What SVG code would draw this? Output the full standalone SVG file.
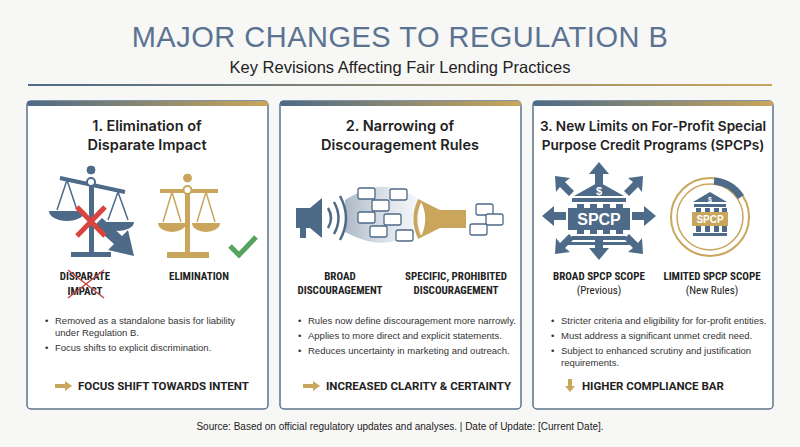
<svg xmlns="http://www.w3.org/2000/svg" width="800" height="447" viewBox="0 0 800 447">
<defs>
<linearGradient id="g" x1="0" x2="1"><stop offset="0" stop-color="#4d6a88"/><stop offset="1" stop-color="#c9a65c"/></linearGradient>
<linearGradient id="cone" x1="0" x2="1"><stop offset="0" stop-color="#5a7391" stop-opacity="0.5"/><stop offset="1" stop-color="#dfe5ec" stop-opacity="0.3"/></linearGradient>
<style>
text{font-family:"Liberation Sans",Arial,sans-serif;fill:#222}
.pt{font-family:"Inter","Liberation Sans",sans-serif;font-size:14.5px;font-weight:600;text-anchor:middle;fill:#222}
.lb{font-family:"Roboto","Liberation Sans",sans-serif;font-size:11px;font-weight:bold;text-anchor:middle;font-stretch:condensed}
.bl{font-size:9.5px;fill:#333}
.tk{font-family:"Roboto","Liberation Sans",sans-serif;font-size:11.5px;font-weight:bold;fill:#222}
.panel{fill:#fff;stroke:#5d738b;stroke-width:1.5}
</style>
</defs>
<rect width="800" height="447" fill="#f7f7f6"/>
<text x="400" y="47" text-anchor="middle" font-size="29" style="fill:#5a7391;letter-spacing:0.5px">MAJOR CHANGES TO REGULATION B</text>
<text x="400" y="73" text-anchor="middle" font-size="16.5">Key Revisions Affecting Fair Lending Practices</text>
<rect x="28" y="84" width="744" height="2" fill="url(#g)"/>

<g id="panel1">
<rect class="panel" x="27" y="101" width="241" height="308" rx="4"/>
<rect x="27" y="101" width="241" height="5" rx="2" fill="url(#g)"/>
<text class="pt" x="147" y="131">1. Elimination of</text>
<text class="pt" x="147" y="150">Disparate Impact</text>
<g fill="#4d6a88" stroke="#4d6a88">
<line x1="60" y1="178" x2="125" y2="192" stroke-width="4"/>
<rect x="89" y="180" width="5" height="74" stroke="none"/>
<circle cx="91" cy="170" r="4"/>
<circle cx="91" cy="182" r="4" fill="#fff" stroke-width="2"/>
<path d="M67 180 L57 210 M67 180 L77 210 M118 192 L108 220 M118 192 L128 220" stroke-width="1.5" fill="none"/>
<path d="M49 211 H85 A18 10 0 0 1 49 211Z" stroke="none"/>
<path d="M102 222 H134 A16 9 0 0 1 102 222Z" stroke="none"/>
<rect x="71" y="252" width="40" height="5" stroke="none"/>
<path d="M102 218 L122 236 L128 230 L134 256 L108 250 L114 244 L94 226Z" stroke="none"/>
</g>
<path d="M77 207 L105 236 M105 207 L77 236" stroke="#d9443f" stroke-width="5"/>
<g fill="#c9a65c" stroke="#c9a65c">
<line x1="160" y1="191" x2="218" y2="191" stroke-width="4"/>
<rect x="185" y="186" width="5" height="66" stroke="none"/>
<circle cx="187.5" cy="178" r="4"/>
<circle cx="187.5" cy="190" r="4" fill="#fff" stroke-width="2"/>
<path d="M172 192 L163 222 M172 192 L181 222 M206 192 L197 222 M206 192 L215 222" stroke-width="1.5" fill="none"/>
<path d="M158 223 H186 A14 9 0 0 1 158 223Z" stroke="none"/>
<path d="M192 223 H220 A14 9 0 0 1 192 223Z" stroke="none"/>
<rect x="167" y="252" width="42" height="6" stroke="none"/>
</g>
<path d="M230 246 L239 255 L256 237" stroke="#55a35d" stroke-width="5" fill="none"/>
<text class="lb" x="85" y="280">DISPARATE</text>
<text class="lb" x="85" y="295">IMPACT</text>
<path d="M68 270 L104 298 M104 270 L68 298" stroke="#c0473f" stroke-width="1.5"/>
<text class="lb" x="199" y="280">ELIMINATION</text>
<text class="bl" x="45" y="324">•</text><text class="bl" x="55" y="324">Removed as a standalone basis for liability</text>
<text class="bl" x="55" y="336">under Regulation B.</text>
<text class="bl" x="45" y="351">•</text><text class="bl" x="55" y="351">Focus shifts to explicit discrimination.</text>
<path d="M55 384 H65 V381 L72 386 L65 391 V388 H55Z" fill="#c9a65c"/>
<text class="tk" x="78" y="390">FOCUS SHIFT TOWARDS INTENT</text>
</g>

<g id="panel2">
<rect class="panel" x="280" y="101" width="241" height="308" rx="4"/>
<rect x="280" y="101" width="241" height="5" rx="2" fill="url(#g)"/>
<text class="pt" x="400" y="131">2. Narrowing of</text>
<text class="pt" x="400" y="150">Discouragement Rules</text>
<path d="M345 200 C 370 185 390 180 420 200 L420 230 C 390 248 370 245 345 232Z" fill="url(#cone)"/>
<path d="M296 208 L310 208 L322 198 L322 238 L310 228 L296 228Z" fill="#4d6a88"/>
<rect x="300" y="228" width="6" height="10" fill="#4d6a88"/>
<path d="M328 208 Q334 218 328 228 M334 202 Q343 218 334 234 M340 196 Q352 218 340 240" stroke="#4d6a88" stroke-width="2.5" fill="none"/>
<g fill="#fff" stroke="#4d6a88" stroke-width="1.3">
<rect x="358" y="188" width="17" height="11" rx="2"/><rect x="372" y="200" width="17" height="11" rx="2"/><rect x="358" y="212" width="17" height="11" rx="2"/><rect x="384" y="214" width="17" height="11" rx="2"/><rect x="370" y="226" width="17" height="11" rx="2"/><rect x="390" y="189" width="17" height="11" rx="2"/><rect x="396" y="230" width="17" height="11" rx="2"/>
</g>
<path d="M420 200 L440 210 L466 210 L466 228 L440 228 L420 238 C427 226 427 212 420 200Z" fill="#c9a65c"/>
<path d="M420 200 C 414 212 414 226 420 238" stroke="#c9a65c" stroke-width="4" fill="none"/>
<g fill="#fff" stroke="#4d6a88" stroke-width="1.3">
<rect x="476" y="204" width="17" height="11" rx="2"/><rect x="486" y="214" width="17" height="11" rx="2"/><rect x="470" y="224" width="17" height="11" rx="2"/>
</g>
<text class="lb" x="340" y="280">BROAD</text>
<text class="lb" x="340" y="294">DISCOURAGEMENT</text>
<text class="lb" x="456" y="280">SPECIFIC, PROHIBITED</text>
<text class="lb" x="456" y="294">DISCOURAGEMENT</text>
<text class="bl" x="298" y="324">•</text><text class="bl" x="308" y="324">Rules now define discouragement more narrowly.</text>
<text class="bl" x="298" y="339">•</text><text class="bl" x="308" y="339">Applies to more direct and explicit statements.</text>
<text class="bl" x="298" y="354">•</text><text class="bl" x="308" y="354">Reduces uncertainty in marketing and outreach.</text>
<path d="M303 384 H313 V381 L320 386 L313 391 V388 H303Z" fill="#c9a65c"/>
<text class="tk" x="326" y="390">INCREASED CLARITY &amp; CERTAINTY</text>
</g>

<g id="panel3">
<rect class="panel" x="533" y="101" width="240" height="308" rx="4"/>
<rect x="533" y="101" width="240" height="5" rx="2" fill="url(#g)"/>
<text class="pt" x="653" y="131" style="font-size:13.6px">3. New Limits on For-Profit Special</text>
<text class="pt" x="653" y="150" style="font-size:13.6px">Purpose Credit Programs (SPCPs)</text>
<g fill="#4d6a88">
<path d="M599 162 L609 174 L603 174 L603 184 L595 184 L595 174 L589 174Z"/>
<path d="M599 260 L609 248 L603 248 L603 240 L595 240 L595 248 L589 248Z"/>
<path d="M542 216 L554 206 L554 212 L566 212 L566 220 L554 220 L554 226Z"/>
<path d="M656 216 L644 206 L644 212 L632 212 L632 220 L644 220 L644 226Z"/>
<path d="M555 176 L570 178 L565 182 L574 191 L569 196 L560 187 L556 192Z"/>
<path d="M643 176 L628 178 L633 182 L624 191 L629 196 L638 187 L642 192Z"/>
<path d="M555 254 L570 252 L565 248 L574 239 L569 234 L560 243 L556 238Z"/>
<path d="M643 254 L628 252 L633 248 L624 239 L629 234 L638 243 L642 238Z"/>
<path d="M574 196 L599 182 L624 196Z"/>
<rect x="572" y="198" width="54" height="4"/>
<rect x="577" y="204" width="7" height="30"/><rect x="590" y="204" width="7" height="30"/><rect x="603" y="204" width="7" height="30"/><rect x="616" y="204" width="7" height="30"/>
<rect x="568" y="208" width="62" height="22"/>
<rect x="572" y="236" width="54" height="4"/><rect x="568" y="242" width="62" height="3"/>
</g>
<text x="599" y="195" text-anchor="middle" font-size="11" font-weight="bold" style="fill:#fff">$</text>
<text x="599" y="225" text-anchor="middle" font-size="16" font-weight="bold" style="fill:#fff">SPCP</text>
<circle cx="710" cy="217" r="39" fill="none" stroke="#c9a65c" stroke-width="2"/>
<circle cx="710" cy="217" r="33" fill="none" stroke="#c9a65c" stroke-width="1.5"/>
<path d="M714 181 A36 36 0 0 1 741 197" fill="none" stroke="#4d6a88" stroke-width="7"/>
<g fill="#4d6a88">
<path d="M693 202 L710 192 L727 202Z"/>
<rect x="694" y="204" width="32" height="3"/>
<rect x="696" y="208" width="5" height="24"/><rect x="705" y="208" width="5" height="24"/><rect x="714" y="208" width="5" height="24"/><rect x="722" y="208" width="5" height="24"/>
<rect x="693" y="233" width="34" height="3"/>
</g>
<text x="710" y="202" text-anchor="middle" font-size="7" font-weight="bold" style="fill:#fff">$</text>
<rect x="692" y="212" width="36" height="14" fill="#c9a65c"/>
<text x="710" y="223" text-anchor="middle" font-size="10" font-weight="bold" style="fill:#fff">SPCP</text>
<text class="lb" x="599" y="280">BROAD SPCP SCOPE</text>
<text class="lb" x="599" y="294" style="font-weight:normal">(Previous)</text>
<text class="lb" x="712" y="280">LIMITED SPCP SCOPE</text>
<text class="lb" x="712" y="294" style="font-weight:normal">(New Rules)</text>
<text class="bl" x="551" y="324">•</text><text class="bl" x="561" y="324">Stricter criteria and eligibility for for-profit entities.</text>
<text class="bl" x="551" y="339">•</text><text class="bl" x="561" y="339">Must address a significant unmet credit need.</text>
<text class="bl" x="551" y="354">•</text><text class="bl" x="561" y="354">Subject to enhanced scrutiny and justification</text>
<text class="bl" x="561" y="366">requirements.</text>
<path d="M568 379 H572 V386 H575 L570 392 L565 386 H568Z" fill="#c9a65c"/>
<text class="tk" x="582" y="390">HIGHER COMPLIANCE BAR</text>
</g>
<text x="400" y="430" text-anchor="middle" font-size="10">Source: Based on official regulatory updates and analyses. | Date of Update: [Current Date].</text>
</svg>
